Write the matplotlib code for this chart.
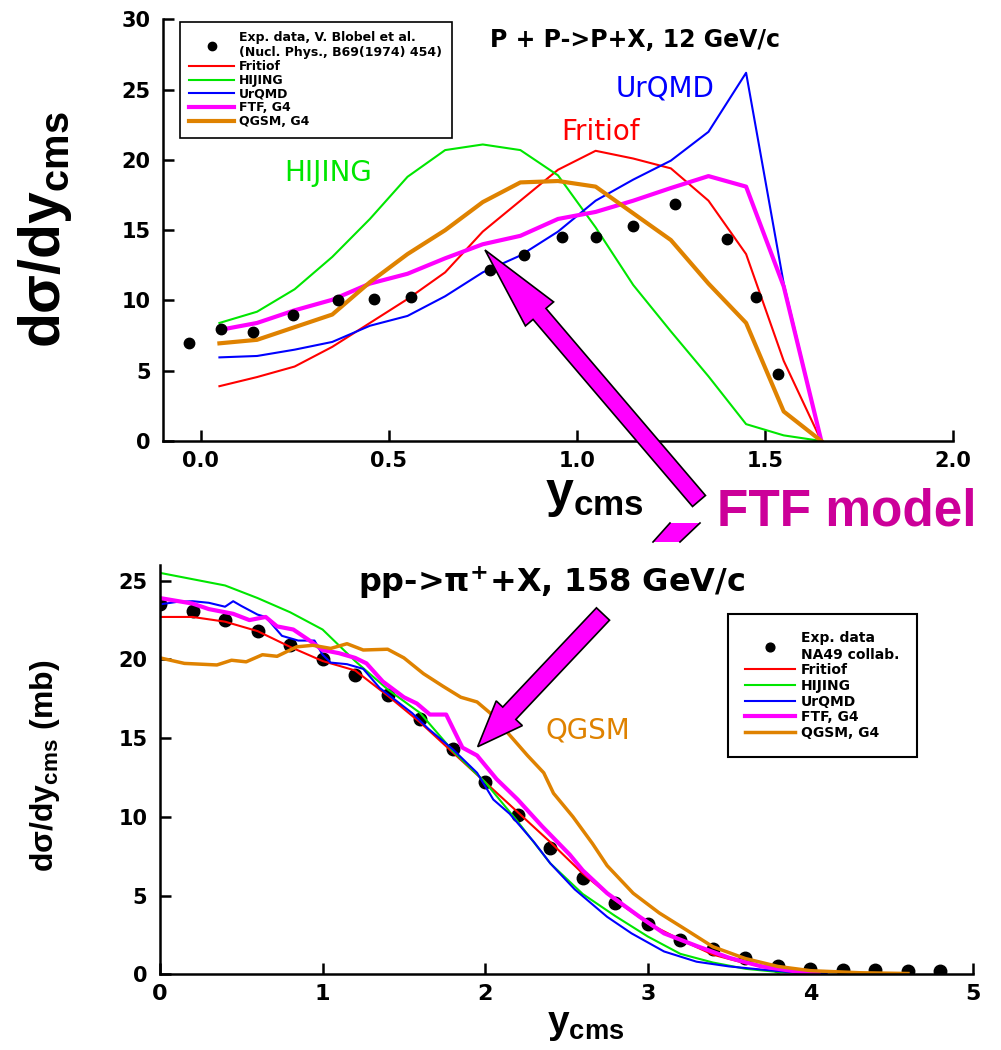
import numpy as np
import matplotlib.pyplot as plt
from matplotlib.transforms import Affine2D
from matplotlib.patches import FancyArrow, Polygon

plt.rcParams['font.family'] = ['DejaVu Sans']
plt.rcParams['mathtext.default'] = 'regular'
plt.rcParams['axes.linewidth'] = 1.8

NARROW = ['Liberation Sans', 'DejaVu Sans']

RED = '#ff0000'
GREEN = '#00e600'
BLUE = '#0000ff'
MAG = '#ff00ff'
ORANGE = '#df8200'

# ---- top panel: P + P -> P + X, 12 GeV/c ----
top_exp_x = [-0.03, 0.055, 0.14, 0.245, 0.365, 0.46, 0.56, 0.77, 0.86, 0.96,
             1.05, 1.15, 1.26, 1.40, 1.475, 1.535]
top_exp_y = [7.0, 8.0, 7.75, 8.95, 10.0, 10.1, 10.25, 12.15, 13.2, 14.5,
             14.5, 15.3, 16.85, 14.35, 10.25, 4.8]

top_x = [0.05, 0.15, 0.25, 0.35, 0.45, 0.55, 0.65, 0.75, 0.85, 0.95,
         1.05, 1.15, 1.25, 1.35, 1.45, 1.55, 1.65]
top_fritiof = [3.9, 4.55, 5.3, 6.7, 8.4, 10.1, 12.0, 14.9, 17.1, 19.3,
               20.65, 20.1, 19.4, 17.1, 13.3, 5.7, 0.0]
top_hijing = [8.4, 9.2, 10.8, 13.1, 15.8, 18.8, 20.7, 21.1, 20.7, 18.9,
              15.2, 11.1, 7.8, 4.6, 1.2, 0.4, 0.0]
top_urqmd = [5.95, 6.05, 6.5, 7.05, 8.2, 8.9, 10.3, 12.0, 13.2, 14.9,
             17.1, 18.6, 19.95, 22.0, 26.2, 11.2, 0.0]
top_ftf = [7.9, 8.4, 9.3, 10.05, 11.2, 11.9, 13.0, 14.0, 14.6, 15.8,
           16.3, 17.1, 18.0, 18.85, 18.1, 11.0, 0.0]
top_qgsm = [6.95, 7.2, 8.1, 9.0, 11.3, 13.3, 15.0, 17.0, 18.4, 18.5,
            18.1, 16.2, 14.3, 11.2, 8.4, 2.1, 0.0]

# ---- bottom panel: pp -> pi+ X, 158 GeV/c ----
bot_exp_x = [0.0, 0.2, 0.4, 0.6, 0.8, 1.0, 1.2, 1.4, 1.6, 1.8, 2.0, 2.2, 2.4,
             2.6, 2.8, 3.0, 3.2, 3.4, 3.6, 3.8, 4.0, 4.2, 4.4, 4.6, 4.8]
bot_exp_y = [23.5, 23.1, 22.5, 21.8, 20.9, 20.05, 19.0, 17.75, 16.2, 14.3,
             12.2, 10.1, 8.0, 6.1, 4.5, 3.2, 2.2, 1.6, 1.05, 0.55, 0.35,
             0.28, 0.25, 0.22, 0.2]

fritiof_x = [0.0, 0.2, 0.4, 0.6, 0.8, 1.0, 1.2, 1.4, 1.6, 1.8, 2.0, 2.2, 2.4,
             2.5, 2.6, 2.8, 3.0, 3.2, 3.4, 3.6, 3.8, 4.0]
fritiof_y = [22.7, 22.7, 22.4, 21.8, 20.8, 19.9, 19.3, 17.7, 16.0, 14.1,
             12.2, 10.3, 8.4, 7.4, 6.4, 4.7, 3.25, 2.2, 1.25, 0.7, 0.4, 0.17]

hijing_x = [0.0, 0.2, 0.4, 0.6, 0.8, 1.0, 1.2, 1.4, 1.6, 1.8, 2.0, 2.2, 2.4,
            2.6, 2.8, 3.0, 3.2, 3.4, 3.6, 3.8, 4.0]
hijing_y = [25.5, 25.1, 24.7, 23.9, 23.0, 21.9, 19.9, 18.1, 16.6, 14.2,
            12.2, 9.7, 7.05, 5.1, 3.7, 2.4, 1.3, 0.75, 0.35, 0.15, 0.05]

urqmd_x = [0.0, 0.1, 0.2, 0.3, 0.4, 0.45, 0.5, 0.6, 0.65, 0.75, 0.85, 0.95,
           1.0, 1.05, 1.15, 1.25, 1.35, 1.45, 1.55, 1.65, 1.8, 1.95, 2.05,
           2.15, 2.3, 2.4, 2.55, 2.75, 2.9, 3.1, 3.3, 3.5, 3.7, 3.9, 4.1]
urqmd_y = [23.5, 23.65, 23.7, 23.6, 23.35, 23.7, 23.4, 22.85, 22.7, 21.5,
           21.2, 21.2, 20.3, 19.8, 19.7, 19.4, 18.2, 17.4, 16.6, 15.6, 14.3,
           12.8, 11.1, 10.2, 8.4, 7.05, 5.4, 3.65, 2.6, 1.45, 0.8, 0.5, 0.3,
           0.12, 0.05]

ftf_x = [0.0, 0.2, 0.3, 0.45, 0.55, 0.65, 0.72, 0.82, 0.92, 1.0, 1.1, 1.2,
         1.27, 1.37, 1.5, 1.58, 1.66, 1.76, 1.86, 1.95, 2.07, 2.2, 2.35,
         2.52, 2.6, 2.75, 2.95, 3.1, 3.3, 3.5, 3.7, 3.9, 4.05]
ftf_y = [23.9, 23.55, 23.2, 22.9, 22.5, 22.7, 22.1, 21.9, 21.2, 20.6, 20.4,
         20.1, 19.75, 18.6, 17.6, 17.2, 16.5, 16.5, 14.4, 13.9, 12.4, 11.1,
         9.4, 7.6, 6.6, 5.15, 3.65, 2.6, 1.8, 1.05, 0.5, 0.2, 0.05]

qgsm_x = [0.0, 0.15, 0.35, 0.44, 0.53, 0.63, 0.72, 0.84, 0.94, 1.05, 1.15,
          1.25, 1.4, 1.5, 1.62, 1.74, 1.85, 1.95, 2.03, 2.15, 2.26, 2.36,
          2.42, 2.54, 2.66, 2.75, 2.91, 3.07, 3.24, 3.4, 3.6, 3.8, 4.0, 4.3,
          4.6]
qgsm_y = [20.1, 19.75, 19.65, 19.95, 19.85, 20.3, 20.2, 20.8, 20.9, 20.7,
          21.0, 20.6, 20.65, 20.1, 19.1, 18.3, 17.6, 17.3, 16.6, 15.2, 13.9,
          12.8, 11.5, 10.0, 8.3, 6.9, 5.15, 3.9, 2.8, 1.75, 1.0, 0.5, 0.23,
          0.1, 0.05]

W, H = 1001, 1050
fig = plt.figure(figsize=(W / 100, H / 100), dpi=100)
# pixel coords, origin top-left (for annotations only)
px = Affine2D().scale(1 / 100, -1 / 100).translate(0, H / 100) + fig.dpi_scale_trans


def style_axes(ax, xsize, xpad):
    for s in ['top', 'right']:
        ax.spines[s].set_visible(False)
    ax.tick_params(direction='in', length=8, width=1.8, pad=9)
    ax.tick_params(axis='x', labelsize=xsize, pad=xpad)
    ax.tick_params(axis='y', labelsize=15)
    for lab in ax.get_xticklabels() + ax.get_yticklabels():
        lab.set_fontweight('bold')


# ---------------- top ----------------
ax1 = fig.add_axes([163 / W, 1 - 441 / H, 790 / W, 421.6 / H])
ax1.plot(top_x, top_fritiof, color=RED, lw=1.5, label='Fritiof')
ax1.plot(top_x, top_hijing, color=GREEN, lw=1.5, label='HIJING')
ax1.plot(top_x, top_urqmd, color=BLUE, lw=1.5, label='UrQMD')
ax1.plot(top_x, top_ftf, color=MAG, lw=3, label='FTF, G4')
ax1.plot(top_x, top_qgsm, color=ORANGE, lw=3, label='QGSM, G4')
ax1.plot(top_exp_x, top_exp_y, 'o', color='black', ms=7.5, zorder=5,
         label='Exp. data, V. Blobel et al.\n(Nucl. Phys., B69(1974) 454)')
ax1.set_xlim(-0.1, 2.0)
ax1.set_ylim(0, 30)
ax1.set_xticks([0.0, 0.5, 1.0, 1.5, 2.0])
ax1.set_xticklabels(['0.0', '0.5', '1.0', '1.5', '2.0'])
ax1.set_yticks(range(0, 31, 5))
style_axes(ax1, 15, 7)

h, l = ax1.get_legend_handles_labels()
order = [5, 0, 1, 2, 3, 4]
leg1 = ax1.legend([h[i] for i in order], [l[i] for i in order],
                  loc='upper left', bbox_to_anchor=(180, 22), bbox_transform=px,
                  borderaxespad=0, fancybox=False, edgecolor='black',
                  framealpha=1, handlelength=3.6, handletextpad=0.4,
                  labelspacing=0.06, borderpad=0.75, markerscale=0.8,
                  prop={'size': 9, 'weight': 'bold'})
leg1.get_frame().set_linewidth(1.2)

ax1.text(0.338, 19.06, 'HIJING', color=GREEN, fontsize=20, ha='center', va='center')
ax1.text(1.064, 22.0, 'Fritiof', color=RED, fontsize=20, ha='center', va='center')
ax1.text(1.234, 25.1, 'UrQMD', color=BLUE, fontsize=20, ha='center', va='center')

fig.text(490, 40, 'P + P->P+X, 12 GeV/c', transform=px, fontsize=17,
         fontweight='bold', ha='left', va='center')
fig.text(45, 230, 'dσ/dy$_{cms}$', transform=px, fontsize=41, fontweight='bold',
         family=NARROW, rotation=90, ha='center', va='center')
fig.text(545, 507, 'y$_{cms}$', transform=px, fontsize=36, fontweight='bold',
         family=NARROW, ha='left', va='baseline')

# ---------------- bottom ----------------
ax2 = fig.add_axes([160 / W, 1 - 974.3 / H, 813 / W, 409.3 / H])
ax2.plot(bot_exp_x, bot_exp_y, 'o', color='black', ms=9,
         label='Exp. data\nNA49 collab.')
ax2.plot(fritiof_x, fritiof_y, color=RED, lw=1.5, label='Fritiof')
ax2.plot(hijing_x, hijing_y, color=GREEN, lw=1.5, label='HIJING')
ax2.plot(urqmd_x, urqmd_y, color=BLUE, lw=1.5, label='UrQMD')
ax2.plot(ftf_x, ftf_y, color=MAG, lw=3, label='FTF, G4')
ax2.plot(qgsm_x, qgsm_y, color=ORANGE, lw=2.5, label='QGSM, G4')
ax2.set_xlim(0, 5)
ax2.set_ylim(0, 26)
ax2.set_xticks(range(0, 6))
ax2.set_yticks(range(0, 26, 5))
style_axes(ax2, 16, 7)

leg2 = ax2.legend(loc='upper left', bbox_to_anchor=(728, 614), bbox_transform=px,
                  borderaxespad=0, fancybox=False, edgecolor='black',
                  framealpha=1, handlelength=3.6, handletextpad=0.4,
                  labelspacing=0.12, borderpad=1.25, markerscale=0.7,
                  prop={'size': 10, 'weight': 'bold'})
leg2.get_frame().set_linewidth(1.5)

ax2.text(2.63, 15.5, 'QGSM', color=ORANGE, fontsize=20, ha='center', va='center')

fig.text(358, 582, 'pp->π$^{+}$+X, 158 GeV/c', transform=px, fontsize=23,
         fontweight='bold', ha='left', va='center')
fig.text(45, 766, 'dσ/dy$_{cms}$ (mb)', transform=px, fontsize=23,
         fontweight='bold', family=NARROW, rotation=90, ha='center', va='center')
fig.text(547, 1033, 'y$_{cms}$', transform=px, fontsize=28, fontweight='bold',
         family=NARROW, ha='left', va='baseline')

# ---------------- arrows / annotation ----------------
a1 = FancyArrow(699, 501, 485 - 699, 250 - 501, width=17, head_width=37,
                head_length=84, length_includes_head=True, transform=px,
                fc=MAG, ec='black', lw=1.2, zorder=10)
a2 = FancyArrow(603, 614, 477.7 - 603, 746.7 - 614, width=18, head_width=36,
                head_length=46, length_includes_head=True, transform=px,
                fc=MAG, ec='black', lw=1.2, zorder=10)
frag = Polygon([(670, 523), (700, 523), (680, 542), (653, 542)], closed=True,
               transform=px, fc=MAG, ec='none', zorder=10)
fig.add_artist(a1)
fig.add_artist(a2)
fig.add_artist(frag)
fig.add_artist(plt.Line2D([670, 653], [523, 542], transform=px, color='black', lw=1.2, zorder=11))
fig.add_artist(plt.Line2D([700, 680], [523, 542], transform=px, color='black', lw=1.2, zorder=11))

fig.text(717, 512, 'FTF model', transform=px, fontsize=37, fontweight='bold',
         family=NARROW, color='#cc0099', ha='left', va='center')

fig.savefig('out.png', dpi=100)
